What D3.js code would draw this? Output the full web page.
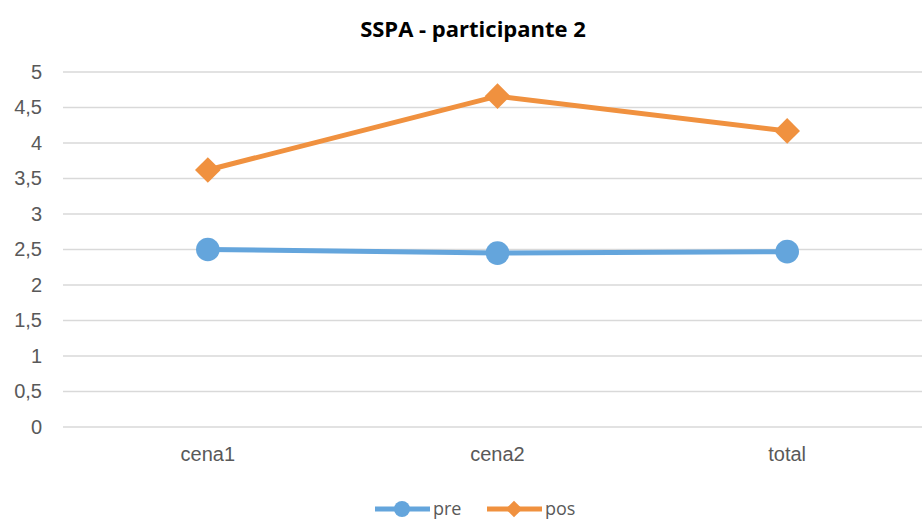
<!DOCTYPE html>
<html>
<head>
<meta charset="utf-8">
<script src="https://cdn.jsdelivr.net/npm/d3@7"></script>
<style>
  body { margin: 0; background: #fff; }
  svg { display: block; font-family: "Open Sans", "Liberation Sans", sans-serif; }
</style>
</head>
<body>
<svg width="922" height="522"></svg>
<script>
var categorias = ["cena1", "cena2", "total"];
var pre = [2.5, 2.45, 2.47];
var pos = [3.62, 4.66, 4.17];
var yTicks = [0, 0.5, 1, 1.5, 2, 2.5, 3, 3.5, 4, 4.5, 5];
var series = [
  { nome: "pre", valores: pre, cor: "#64a5dc", marca: "circulo" },
  { nome: "pos", valores: pos, cor: "#f0913f", marca: "losango" }
];

var svg = d3.select("svg"),
    margin = { top: 72, left: 63 },
    width = 869,
    height = 355;

var g = svg.append("g").attr("transform", "translate(" + margin.left + "," + margin.top + ")");

var x = d3.scaleBand().domain(categorias).range([0, width]);
var y = d3.scaleLinear().domain([0, 5]).range([height, 0]);

var fmt = function(d) { return String(d).replace(".", ","); };

// grade
g.selectAll(".grid").data(yTicks).enter().append("line")
  .attr("x1", 0).attr("x2", width)
  .attr("y1", function(d) { return y(d); })
  .attr("y2", function(d) { return y(d); })
  .attr("stroke", "#d9d9d9").attr("stroke-width", 1.5);

// eixo y
var eixoY = g.append("g").call(d3.axisLeft(y).tickValues(yTicks).tickFormat(fmt).tickSize(0).tickPadding(21));
eixoY.select(".domain").remove();
eixoY.selectAll("text").attr("fill", "#595959").style("font-size", "20px");

// eixo x
var eixoX = g.append("g").attr("transform", "translate(0," + height + ")")
  .call(d3.axisBottom(x).tickSize(0).tickPadding(20));
eixoX.select(".domain").remove();
eixoX.selectAll("text").attr("fill", "#595959").style("font-size", "20px");

var linha = d3.line()
  .x(function(d, i) { return x(categorias[i]) + x.bandwidth() / 2; })
  .y(function(d) { return y(d); });

series.forEach(function(s) {
  g.append("path").datum(s.valores)
    .attr("fill", "none").attr("stroke", s.cor).attr("stroke-width", 5)
    .attr("stroke-linejoin", "round")
    .attr("d", linha);
  g.selectAll(".m-" + s.nome).data(s.valores).enter().append("path")
    .attr("transform", function(d, i) {
      var t = "translate(" + (x(categorias[i]) + x.bandwidth() / 2) + "," + y(d) + ")";
      return s.marca === "circulo" ? t : t + " rotate(45)";
    })
    .attr("d", s.marca === "circulo"
      ? d3.symbol().type(d3.symbolCircle).size(440)
      : d3.symbol().type(d3.symbolSquare).size(330))
    .attr("fill", s.cor);
});

// titulo
svg.append("text").attr("x", 473).attr("y", 37).attr("text-anchor", "middle")
  .style("font-size", "22px").style("font-weight", "bold").attr("fill", "#000")
  .text("SSPA - participante 2");

// legenda
var legenda = svg.append("g").attr("transform", "translate(0,509)");
var itens = [{ s: series[0], x: 375 }, { s: series[1], x: 487 }];
itens.forEach(function(it) {
  var lg = legenda.append("g").attr("transform", "translate(" + it.x + ",0)");
  lg.append("line").attr("x1", 0).attr("x2", 55).attr("y1", 0).attr("y2", 0)
    .attr("stroke", it.s.cor).attr("stroke-width", 5);
  if (it.s.marca === "circulo") {
    lg.append("circle").attr("cx", 27).attr("cy", 0).attr("r", 8).attr("fill", it.s.cor);
  } else {
    lg.append("path").attr("transform", "translate(27,0) rotate(45)")
      .attr("d", d3.symbol().type(d3.symbolSquare).size(140)).attr("fill", it.s.cor);
  }
  lg.append("text").attr("x", 58).attr("y", 6).attr("fill", "#595959")
    .style("font-size", "18px").text(it.s.nome);
});
</script>
</body>
</html>
